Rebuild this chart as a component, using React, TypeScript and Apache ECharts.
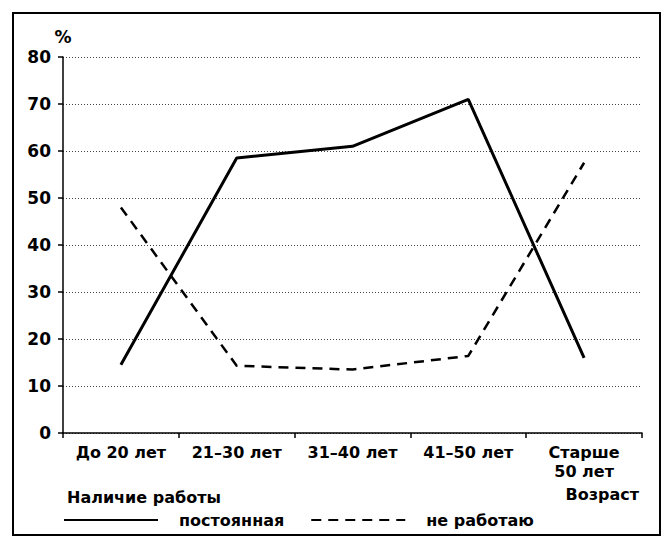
import React, { useEffect, useRef } from "react";
import * as echarts from "echarts";

const categories = ["До 20 лет", "21–30 лет", "31–40 лет", "41–50 лет", "Старше\n50 лет"];
const seriesNames = ["постоянная", "не работаю"];
const permanent = [14.5, 58.5, 61, 71, 16];
const notWorking = [48, 14.3, 13.5, 16.4, 57.5];
const yTicks = { min: 0, max: 80, interval: 10 };
const yUnit = "%";
const xTitle = "Возраст";
const legendTitle = "Наличие работы";

const FONT = "'DejaVu Sans', sans-serif";

export default function App() {
  const ref = useRef<HTMLDivElement>(null);
  useEffect(() => {
    if (!ref.current) return;
    const chart = echarts.init(ref.current, undefined, { renderer: "svg" });
    chart.setOption({
      animation: false,
      backgroundColor: "#fff",
      textStyle: { fontFamily: FONT },
      grid: { left: 63, right: 21, top: 57, bottom: 110, containLabel: false },
      xAxis: {
        type: "category",
        data: categories,
        boundaryGap: true,
        axisLine: { show: true, lineStyle: { color: "#000", width: 1.5 } },
        axisTick: { show: true, length: 5, lineStyle: { color: "#000", width: 1.5 } },
        axisLabel: {
          color: "#000",
          fontSize: 16,
          fontWeight: "bold",
          fontFamily: FONT,
          margin: 10,
          lineHeight: 19,
          interval: 0,
        },
        splitLine: { show: false },
      },
      yAxis: {
        type: "value",
        min: yTicks.min,
        max: yTicks.max,
        interval: yTicks.interval,
        name: yUnit,
        nameLocation: "end",
        nameGap: 12,
        nameTextStyle: { color: "#000", fontSize: 17, fontWeight: "bold", fontFamily: FONT, align: "center" },
        axisLine: { show: true, lineStyle: { color: "#000", width: 1.5 } },
        axisTick: { show: true, length: 5, lineStyle: { color: "#000", width: 1.5 } },
        axisLabel: { color: "#000", fontSize: 17, fontWeight: "bold", fontFamily: FONT, margin: 12 },
        splitLine: { show: true, lineStyle: { color: "#444", type: [1, 2], width: 1 } },
      },
      legend: {
        left: 63,
        top: 512,
        padding: 0,
        itemWidth: 94,
        itemHeight: 14,
        itemGap: 26,
        itemStyle: { opacity: 0 },
        textStyle: { color: "#000", fontSize: 16, fontWeight: "bold", fontFamily: FONT, padding: [0, 0, 0, 16] },
        data: seriesNames,
      },
      series: [
        {
          name: seriesNames[0],
          type: "line",
          data: permanent,
          symbol: "none",
          lineStyle: { color: "#000", width: 3, type: "solid" },
          itemStyle: { color: "#000" },
        },
        {
          name: seriesNames[1],
          type: "line",
          data: notWorking,
          symbol: "none",
          lineStyle: { color: "#000", width: 2.5, type: [10, 7] },
          itemStyle: { color: "#000" },
        },
      ],
      graphic: [
        {
          type: "rect",
          shape: { x: 13, y: 13, width: 647, height: 522 },
          style: { fill: "none", stroke: "#000", lineWidth: 2 },
          silent: true,
        },
        {
          type: "text",
          left: 67,
          top: 489,
          style: { text: legendTitle, fill: "#000", font: `bold 16px ${FONT}` },
        },
        {
          type: "text",
          right: 24,
          top: 486,
          style: { text: xTitle, fill: "#000", font: `bold 16px ${FONT}` },
        },
      ],
    });
    return () => chart.dispose();
  }, []);
  return (
    <div
      ref={ref}
      style={{ position: "absolute", left: 0, top: 0, width: 663, height: 543 }}
    />
  );
}
